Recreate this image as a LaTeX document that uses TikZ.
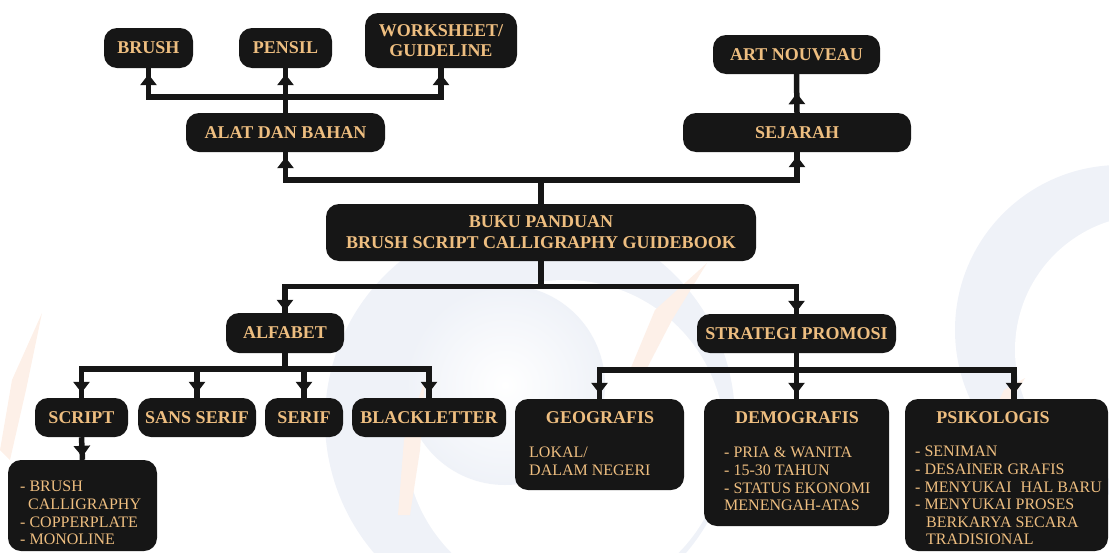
\documentclass[tikz,border=0pt]{standalone}
\usepackage{fontspec}
\setmainfont{Liberation Serif}
\usetikzlibrary{arrows.meta,decorations.markings}
\definecolor{boxc}{HTML}{161616}
\definecolor{txt}{HTML}{EEBE80}
\definecolor{wmb}{HTML}{EFF2F8}
\definecolor{wmo}{HTML}{FDF0E8}
\tikzset{
  box/.style={fill=boxc, draw=none, rounded corners=13pt, text=txt, inner sep=0pt,
    font=\bfseries\fontsize{18}{21}\selectfont, align=center},
  ttl/.style={text=txt, inner sep=0pt, font=\bfseries\fontsize{18}{21}\selectfont},
  lst/.style={text=txt, inner sep=0pt, align=left, anchor=north west,
    font=\fontsize{16}{17.6}\selectfont},
  conn/.style={draw=boxc, color=boxc, line width=5.5pt},
  arr/.style={postaction={decorate, decoration={markings,
    mark=at position -#1 with {\arrow{Triangle[width=16pt,length=11pt]}}}}},
  arr/.default=5pt
}
\begin{document}
\begin{tikzpicture}[x=1pt,y=-1pt]
\useasboundingbox (0,0) rectangle (1109,552);
% faint watermark
\begin{scope}
  \fill[wmb] (530,420) circle (205);
  \fill[white] (565,440) circle (160);
  \shade[inner color=white, outer color=wmb] (505,385) circle (100);
  \fill[wmb] (1120,330) circle (165);
  \fill[white] (1150,350) circle (135);
  \fill[wmo] (0,450) -- (12,380) -- (42,313) -- (26,390) -- (10,460) -- cycle;
  \fill[wmo] (398,515) -- (404,440) -- (425,380) -- (420,450) -- (410,515) -- cycle;
  \fill[wmo] (630,370) -- (655,310) -- (707,263) -- (672,320) -- (645,372) -- cycle;
  \fill[wmo] (992,415) -- (1004,390) -- (1025,378) -- (1012,400) -- cycle;
\end{scope}
% nodes
\node[box, minimum width=89pt, minimum height=40pt] (brush) at (148.5,48) {BRUSH};
\node[box, minimum width=93pt, minimum height=40pt] (pensil) at (285.5,48) {PENSIL};
\node[box, minimum width=152pt, minimum height=55pt, font=\bfseries\fontsize{18}{20}\selectfont] (work) at (441,40.5) {WORKSHEET/\\GUIDELINE};
\node[box, minimum width=199pt, minimum height=39pt] (alat) at (285.5,132.5) {ALAT DAN BAHAN};
\node[box, minimum width=228pt, minimum height=39pt] (sejarah) at (797,132.5) {SEJARAH};
\node[box, minimum width=167pt, minimum height=39pt] (art) at (796.5,54.5) {ART NOUVEAU};
\node[box, minimum width=430pt, minimum height=57pt] (buku) at (541,232.5) {BUKU PANDUAN\\BRUSH SCRIPT CALLIGRAPHY GUIDEBOOK};
\node[box, minimum width=118pt, minimum height=40pt] (alfabet) at (285,333) {ALFABET};
\node[box, minimum width=199pt, minimum height=39pt] (strategi) at (796.5,333.5) {STRATEGI PROMOSI};
\node[box, minimum width=93pt, minimum height=39pt] (script) at (81.5,417.5) {SCRIPT};
\node[box, minimum width=118pt, minimum height=39pt] (sans) at (197,417.5) {SANS SERIF};
\node[box, minimum width=78pt, minimum height=39pt] (serif) at (304,417.5) {SERIF};
\node[box, minimum width=154pt, minimum height=39pt] (black) at (429,417.5) {BLACKLETTER};
\node[box, minimum width=149pt, minimum height=91pt] (slist) at (82.5,505.5) {};
\node[box, minimum width=169pt, minimum height=91pt] (geo) at (599.5,444.5) {};
\node[box, minimum width=185pt, minimum height=127pt] (demo) at (796.5,462.5) {};
\node[box, minimum width=203pt, minimum height=152pt] (psik) at (1006.5,475) {};
% texts inside big boxes
\node[ttl] (geot) at (600,418) {GEOGRAFIS};
\node[ttl] (demot) at (797,418) {DEMOGRAFIS};
\node[ttl] (psikt) at (993,418) {PSIKOLOGIS};
\node[lst] (slistt) at (20,481) {- BRUSH\\\hspace*{8pt}CALLIGRAPHY\\- COPPERPLATE\\- MONOLINE};
\node[lst] (geol) at (529,447) {LOKAL/\\DALAM NEGERI};
\node[lst] (demol) at (724,447) {- PRIA \& WANITA\\- 15-30 TAHUN\\- STATUS EKONOMI\\MENENGAH-ATAS};
\node[lst] (psikl) at (915,446) {- SENIMAN\\- DESAINER GRAFIS\\- MENYUKAI\hspace{5pt} HAL BARU\\- MENYUKAI PROSES\\\hspace*{11pt}BERKARYA SECARA\\\hspace*{11pt}TRADISIONAL};
% junction levels
\coordinate (ya) at (0,97);
\coordinate (ytop) at (0,180);
\coordinate (yb) at (0,286.5);
\coordinate (yc) at (0,369);
\coordinate (yd) at (0,370);
\coordinate (pk) at (1014,0);
% connectors
\draw[conn,arr=6pt] (alat.north) -- (pensil.south);
\draw[conn,arr=6pt] (alat.north |- ya) -| (brush.south);
\draw[conn,arr=6pt] (alat.north |- ya) -| (work.south);
\draw[conn,arr=19pt] (sejarah.north) -- (art.south);
\draw[conn,arr=5pt] (buku.north) -- (buku.north |- ytop) -| (alat.south);
\draw[conn,arr=4pt] (buku.north |- ytop) -| (sejarah.south);
\draw[conn,arr=2pt] (buku.south) -- (buku.south |- yb) -| (alfabet.north);
\draw[conn,arr=2pt] (buku.south |- yb) -| (strategi.north);
\draw[conn,arr=5pt] (alfabet.south) -- (alfabet.south |- yc) -| (script.north);
\draw[conn,arr=5pt] (alfabet.south |- yc) -| (sans.north);
\draw[conn,arr=5pt] (alfabet.south |- yc) -| (serif.north);
\draw[conn,arr=5pt] (alfabet.south |- yc) -| (black.north);
\draw[conn,arr=3pt] (script.south) -- (slist.north);
\draw[conn,arr=5pt] (strategi.south) -- (strategi.south |- yd) -| (geo.north);
\draw[conn,arr=5pt] (strategi.south |- yd) -| (demo.north);
\draw[conn,arr=5pt] (strategi.south |- yd) -| (pk |- psik.north);
\end{tikzpicture}
\end{document}
